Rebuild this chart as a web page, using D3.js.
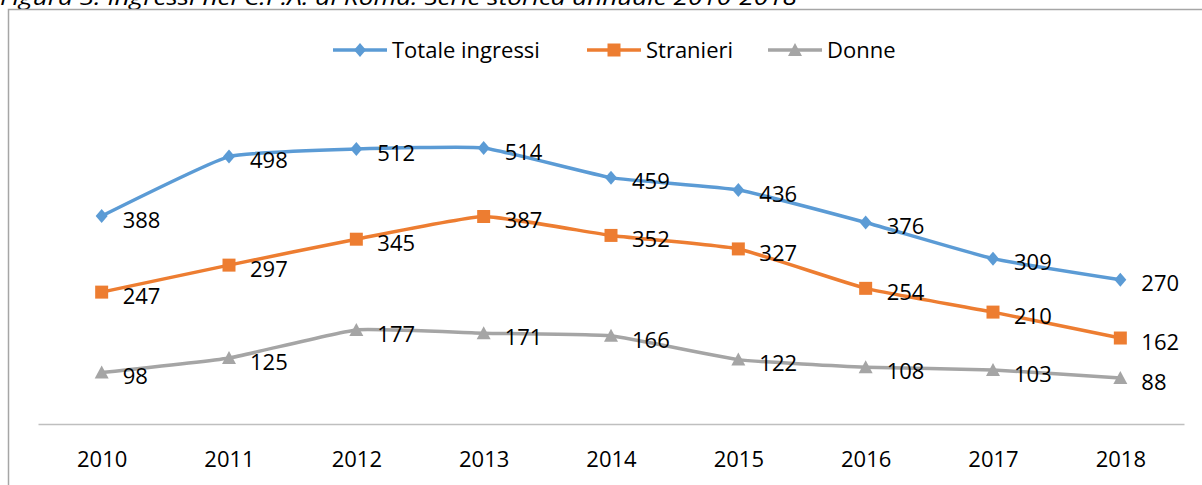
<!DOCTYPE html>
<html>
<head>
<meta charset="utf-8">
<script src="https://cdn.jsdelivr.net/npm/d3@7"></script>
<style>
  body { margin: 0; background: #fff; }
  svg { display: block; font-family: "Open Sans", sans-serif; }
</style>
</head>
<body>
<script>
const years = ["2010", "2011", "2012", "2013", "2014", "2015", "2016", "2017", "2018"];
const totale = [388, 498, 512, 514, 459, 436, 376, 309, 270];
const stranieri = [247, 297, 345, 387, 352, 327, 254, 210, 162];
const donne = [98, 125, 177, 171, 166, 122, 108, 103, 88];
const seriesNames = ["Totale ingressi", "Stranieri", "Donne"];
const titleText = "Figura 3. Ingressi nel C.P.A. di Roma. Serie storica annuale 2010-2018";

const w = 1202;
const h = 485;

const series = [
  { name: seriesNames[0], values: totale, color: "#5B9BD5", marker: "diamond" },
  { name: seriesNames[1], values: stranieri, color: "#ED7D31", marker: "square" },
  { name: seriesNames[2], values: donne, color: "#A5A5A5", marker: "triangle" },
];

const xScale = d3.scalePoint().domain(years).range([38, 1184]).padding(0.5);
const yScale = d3.scaleLinear().domain([0, 600]).range([425.5, 101.5]);

const markerPath = (type) => {
  if (type === "diamond") return "M0,-7L6,0L0,7L-6,0Z";
  if (type === "square") return "M-6.5,-6.5H6.5V6.5H-6.5Z";
  return "M0,-7L7,6H-7Z";
};

const svg = d3.select("body").append("svg").attr("width", w).attr("height", h);

// title (cut off at the top, as in the source)
svg
  .append("text")
  .attr("x", 0)
  .attr("y", 5)
  .attr("textLength", 797)
  .attr("lengthAdjust", "spacingAndGlyphs")
  .style("font-style", "italic")
  .style("font-size", "21px")
  .style("fill", "#000")
  .text(titleText);

// chart frame
svg
  .append("rect")
  .attr("x", 8.5)
  .attr("y", 9.5)
  .attr("width", 1300)
  .attr("height", 600)
  .attr("fill", "none")
  .attr("stroke", "#a6a6a6")
  .attr("stroke-width", 1.5);

// x axis
const xAxis = d3.axisBottom(xScale).tickSize(0).tickSizeOuter(0).tickPadding(27);
const axisG = svg.append("g").attr("transform", "translate(0, 424)").call(xAxis);
axisG.select(".domain").attr("stroke", "#bfbfbf").attr("stroke-width", 1.5);
axisG
  .selectAll("text")
  .style("font-family", "'Open Sans', sans-serif")
  .style("font-size", "22px")
  .style("fill", "#000");

const line = d3
  .line()
  .x((d, i) => xScale(years[i]))
  .y((d) => yScale(d))
  .curve(d3.curveCardinal.tension(0.6));

series.forEach((s) => {
  const g = svg.append("g");
  g.append("path")
    .attr("d", line(s.values))
    .attr("fill", "none")
    .attr("stroke", s.color)
    .attr("stroke-width", 3.5)
    .attr("stroke-linejoin", "round");

  g.selectAll("path.marker")
    .data(s.values)
    .enter()
    .append("path")
    .attr("class", "marker")
    .attr("d", markerPath(s.marker))
    .attr("transform", (d, i) => `translate(${xScale(years[i])}, ${yScale(d)})`)
    .attr("fill", s.color);

  g.selectAll("text")
    .data(s.values)
    .enter()
    .append("text")
    .text((d) => d)
    .attr("x", (d, i) => xScale(years[i]) + 21)
    .attr("y", (d) => yScale(d) + 4)
    .attr("dy", "0.35em")
    .style("font-size", "22px")
    .style("fill", "#000");
});

// legend
const legendX = [333, 587, 768];
const legend = svg
  .append("g")
  .selectAll("g")
  .data(series)
  .enter()
  .append("g")
  .attr("transform", (d, i) => `translate(${legendX[i]}, 50)`);

legend
  .append("line")
  .attr("x1", 0)
  .attr("x2", 54)
  .attr("stroke", (d) => d.color)
  .attr("stroke-width", 3.5);

legend
  .append("path")
  .attr("d", (d) => markerPath(d.marker))
  .attr("transform", "translate(27, 0)")
  .attr("fill", (d) => d.color);

legend
  .append("text")
  .text((d) => d.name)
  .attr("x", 59)
  .attr("dy", "0.35em")
  .style("font-size", "22px")
  .style("fill", "#000");
</script>
</body>
</html>
